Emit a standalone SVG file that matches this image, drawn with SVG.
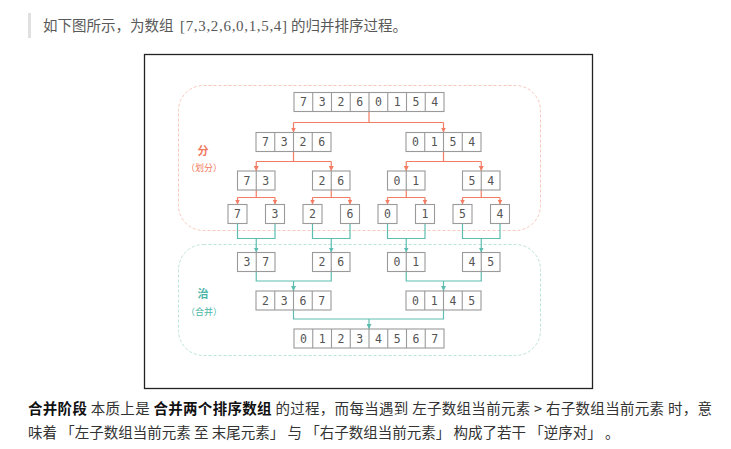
<svg xmlns="http://www.w3.org/2000/svg" width="731" height="449" viewBox="0 0 731 449">
<style>
.c{fill:#fff;stroke:#9a9a9a;stroke-width:1.1}
.dv{fill:none;stroke:#9a9a9a;stroke-width:1.1}
.d{font-family:"DejaVu Sans Mono",monospace;font-size:11.5px;fill:#555;text-anchor:middle}
.r{fill:none;stroke:#F27D63;stroke-width:1.2}
.t{fill:none;stroke:#5CBDB0;stroke-width:1.2}
.ra{fill:none;stroke:#F27D63;stroke-width:1.2;marker-end:url(#ar)}
.ta{fill:none;stroke:#5CBDB0;stroke-width:1.2;marker-end:url(#at)}
.cjk{font-family:"Noto Sans CJK SC","Noto Sans",sans-serif}
</style>
<defs>
<marker id="ar" markerUnits="userSpaceOnUse" markerWidth="5" markerHeight="5" refX="5" refY="2.5" orient="auto"><path d="M0,0 L5,2.5 L0,5 z" fill="#F27D63"/></marker>
<marker id="at" markerUnits="userSpaceOnUse" markerWidth="5" markerHeight="5" refX="5" refY="2.5" orient="auto"><path d="M0,0 L5,2.5 L0,5 z" fill="#5CBDB0"/></marker>
</defs>
<rect width="731" height="449" fill="#fff"/>
<g id="intro">
<rect x="28" y="13" width="3" height="25" fill="#e0e0e0"/>
<text x="43" y="31" class="cjk" font-size="14.5" fill="#595959">如下图所示，为数组</text>
<text x="180" y="31" font-family="'Liberation Serif','DejaVu Serif',serif" font-size="15" fill="#595959" textLength="107" lengthAdjust="spacing">[7,3,2,6,0,1,5,4]</text>
<text x="291" y="31" class="cjk" font-size="14.5" fill="#595959">的归并排序过程。</text>
</g>
<g id="frame"><rect x="144.5" y="54.5" width="448" height="334" fill="none" stroke="#222" stroke-width="1.3"/></g>
<g id="divide-region">
<rect x="178.5" y="85.5" width="362" height="145" rx="25" fill="none" stroke="#F8C8BC" stroke-width="1" stroke-dasharray="3 2"/>
<text x="203" y="155" class="cjk" font-size="11" font-weight="bold" fill="#F07A5E" text-anchor="middle">分</text>
<text x="204" y="171" class="cjk" font-size="9" fill="#F07A5E" text-anchor="middle">（划分）</text>
</g>
<g id="merge-region">
<rect x="178.5" y="244.5" width="362" height="111" rx="25" fill="none" stroke="#BDE3DD" stroke-width="1" stroke-dasharray="3 2"/>
<text x="203" y="298" class="cjk" font-size="11" font-weight="bold" fill="#4DB6A8" text-anchor="middle">治</text>
<text x="204" y="315" class="cjk" font-size="9" fill="#4DB6A8" text-anchor="middle">（合并）</text>
</g>
<g id="connectors">
<path class="r" d="M369,111.5 V122.5 M293.5,122.5 H443.5"/>
<path class="ra" d="M293.5,122.5 V132.5"/><path class="ra" d="M443.5,122.5 V132.5"/>
<path class="r" d="M293.5,151.5 V161.5 M256.25,161.5 H331.25 M443.5,151.5 V161.5 M406.25,161.5 H481.25"/>
<path class="ra" d="M256.25,161.5 V171"/><path class="ra" d="M331.25,161.5 V171"/><path class="ra" d="M406.25,161.5 V171"/><path class="ra" d="M481.25,161.5 V171"/>
<path class="r" d="M256.25,190 V197.5 M237.5,197.5 H275 M331.25,190 V197.5 M312.5,197.5 H350 M406.25,190 V197.5 M387.5,197.5 H425 M481.25,190 V197.5 M462.5,197.5 H500"/>
<path class="ra" d="M237.5,197.5 V204.5"/><path class="ra" d="M275,197.5 V204.5"/><path class="ra" d="M312.5,197.5 V204.5"/><path class="ra" d="M350,197.5 V204.5"/><path class="ra" d="M387.5,197.5 V204.5"/><path class="ra" d="M425,197.5 V204.5"/><path class="ra" d="M462.5,197.5 V204.5"/><path class="ra" d="M500,197.5 V204.5"/>
<path class="t" d="M237.5,223.5 V238.5 H275 V223.5 M312.5,223.5 V238.5 H350 V223.5 M387.5,223.5 V238.5 H425 V223.5 M462.5,223.5 V238.5 H500 V223.5"/>
<path class="ta" d="M256.25,238.5 V252.5"/><path class="ta" d="M331.25,238.5 V252.5"/><path class="ta" d="M406.25,238.5 V252.5"/><path class="ta" d="M481.25,238.5 V252.5"/>
<path class="t" d="M256.25,271.5 V281 H331.25 V271.5 M406.25,271.5 V281 H481.25 V271.5"/>
<path class="ta" d="M293.5,281 V291"/><path class="ta" d="M443.5,281 V291"/>
<path class="t" d="M293.5,310 V319 H443.5 V310"/>
<path class="ta" d="M369,319 V329"/>
</g>
<g id="n-73260154">
<rect class="c" x="294" y="92.5" width="150" height="19"/>
<path class="dv" d="M312.75,92.5v19M331.5,92.5v19M350.25,92.5v19M369,92.5v19M387.75,92.5v19M406.5,92.5v19M425.25,92.5v19"/>
<text class="d" y="106"><tspan x="303.4">7</tspan><tspan x="322.1">3</tspan><tspan x="340.9">2</tspan><tspan x="359.6">6</tspan><tspan x="378.4">0</tspan><tspan x="397.1">1</tspan><tspan x="415.9">5</tspan><tspan x="434.6">4</tspan></text>
</g>
<g id="n-7326">
<rect class="c" x="256" y="132.5" width="75" height="19"/>
<path class="dv" d="M274.75,132.5v19M293.5,132.5v19M312.25,132.5v19"/>
<text class="d" y="146"><tspan x="265.4">7</tspan><tspan x="284.1">3</tspan><tspan x="302.9">2</tspan><tspan x="321.6">6</tspan></text>
</g>
<g id="n-0154">
<rect class="c" x="406" y="132.5" width="75" height="19"/>
<path class="dv" d="M424.75,132.5v19M443.5,132.5v19M462.25,132.5v19"/>
<text class="d" y="146"><tspan x="415.4">0</tspan><tspan x="434.1">1</tspan><tspan x="452.9">5</tspan><tspan x="471.6">4</tspan></text>
</g>
<g id="n-73">
<rect class="c" x="237.5" y="171" width="37.5" height="19"/><path class="dv" d="M256.25,171v19"/>
<text class="d" y="184.5"><tspan x="246.9">7</tspan><tspan x="265.6">3</tspan></text>
</g>
<g id="n-26">
<rect class="c" x="312.5" y="171" width="37.5" height="19"/><path class="dv" d="M331.25,171v19"/>
<text class="d" y="184.5"><tspan x="321.9">2</tspan><tspan x="340.6">6</tspan></text>
</g>
<g id="n-01">
<rect class="c" x="387.5" y="171" width="37.5" height="19"/><path class="dv" d="M406.25,171v19"/>
<text class="d" y="184.5"><tspan x="396.9">0</tspan><tspan x="415.6">1</tspan></text>
</g>
<g id="n-54">
<rect class="c" x="462.5" y="171" width="37.5" height="19"/><path class="dv" d="M481.25,171v19"/>
<text class="d" y="184.5"><tspan x="471.9">5</tspan><tspan x="490.6">4</tspan></text>
</g>
<g id="n-s7"><rect class="c" x="228" y="204.5" width="19" height="19"/><text class="d" x="237.5" y="218">7</text></g>
<g id="n-s3"><rect class="c" x="265.5" y="204.5" width="19" height="19"/><text class="d" x="275" y="218">3</text></g>
<g id="n-s2"><rect class="c" x="303" y="204.5" width="19" height="19"/><text class="d" x="312.5" y="218">2</text></g>
<g id="n-s6"><rect class="c" x="340.5" y="204.5" width="19" height="19"/><text class="d" x="350" y="218">6</text></g>
<g id="n-s0"><rect class="c" x="378" y="204.5" width="19" height="19"/><text class="d" x="387.5" y="218">0</text></g>
<g id="n-s1"><rect class="c" x="415.5" y="204.5" width="19" height="19"/><text class="d" x="425" y="218">1</text></g>
<g id="n-s5"><rect class="c" x="453" y="204.5" width="19" height="19"/><text class="d" x="462.5" y="218">5</text></g>
<g id="n-s4"><rect class="c" x="490.5" y="204.5" width="19" height="19"/><text class="d" x="500" y="218">4</text></g>
<g id="n-37">
<rect class="c" x="237.5" y="252.5" width="37.5" height="19"/><path class="dv" d="M256.25,252.5v19"/>
<text class="d" y="266"><tspan x="246.9">3</tspan><tspan x="265.6">7</tspan></text>
</g>
<g id="n-26m">
<rect class="c" x="312.5" y="252.5" width="37.5" height="19"/><path class="dv" d="M331.25,252.5v19"/>
<text class="d" y="266"><tspan x="321.9">2</tspan><tspan x="340.6">6</tspan></text>
</g>
<g id="n-01m">
<rect class="c" x="387.5" y="252.5" width="37.5" height="19"/><path class="dv" d="M406.25,252.5v19"/>
<text class="d" y="266"><tspan x="396.9">0</tspan><tspan x="415.6">1</tspan></text>
</g>
<g id="n-45">
<rect class="c" x="462.5" y="252.5" width="37.5" height="19"/><path class="dv" d="M481.25,252.5v19"/>
<text class="d" y="266"><tspan x="471.9">4</tspan><tspan x="490.6">5</tspan></text>
</g>
<g id="n-2367">
<rect class="c" x="256" y="291" width="75" height="19"/>
<path class="dv" d="M274.75,291v19M293.5,291v19M312.25,291v19"/>
<text class="d" y="304.5"><tspan x="265.4">2</tspan><tspan x="284.1">3</tspan><tspan x="302.9">6</tspan><tspan x="321.6">7</tspan></text>
</g>
<g id="n-0145">
<rect class="c" x="406" y="291" width="75" height="19"/>
<path class="dv" d="M424.75,291v19M443.5,291v19M462.25,291v19"/>
<text class="d" y="304.5"><tspan x="415.4">0</tspan><tspan x="434.1">1</tspan><tspan x="452.9">4</tspan><tspan x="471.6">5</tspan></text>
</g>
<g id="n-01234567">
<rect class="c" x="294" y="329" width="150" height="19"/>
<path class="dv" d="M312.75,329v19M331.5,329v19M350.25,329v19M369,329v19M387.75,329v19M406.5,329v19M425.25,329v19"/>
<text class="d" y="342.5"><tspan x="303.4">0</tspan><tspan x="322.1">1</tspan><tspan x="340.9">2</tspan><tspan x="359.6">3</tspan><tspan x="378.4">4</tspan><tspan x="397.1">5</tspan><tspan x="415.9">6</tspan><tspan x="434.6">7</tspan></text>
</g>
<g id="caption" class="cjk" font-size="14.5" fill="#333">
<text x="28" y="414" xml:space="preserve" textLength="684" lengthAdjust="spacing"><tspan font-weight="bold" fill="#111">合并阶段</tspan> 本质上是 <tspan font-weight="bold" fill="#111">合并两个排序数组</tspan> 的过程，而每当遇到 左子数组当前元素 &gt; 右子数组当前元素 时，意</text>
<text x="28" y="438" xml:space="preserve">味着 「左子数组当前元素 至 末尾元素」 与 「右子数组当前元素」 构成了若干 「逆序对」 。</text>
</g>
</svg>
